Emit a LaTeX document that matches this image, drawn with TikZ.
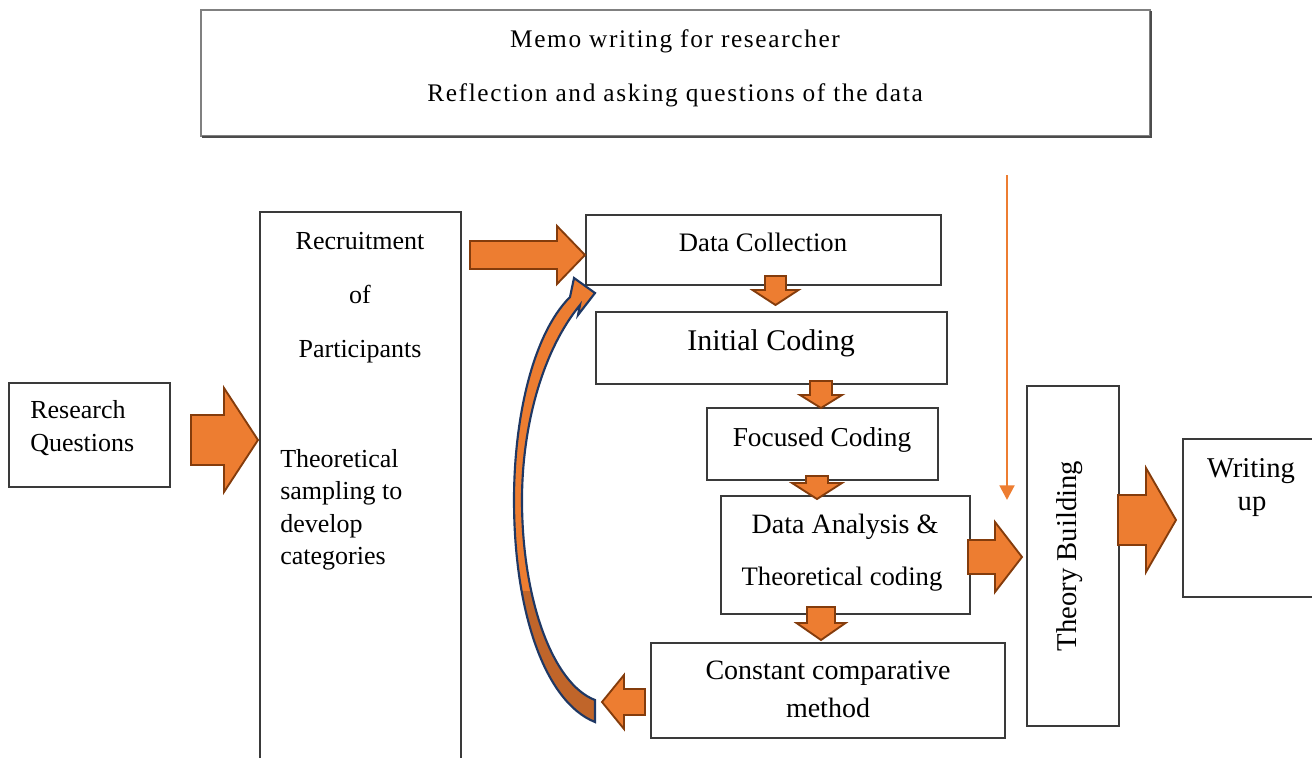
\documentclass[tikz,border=0pt]{standalone}
\usepackage{fontspec}
\setmainfont{Liberation Serif}
\newfontfamily\memofont[LetterSpace=6.5]{Liberation Serif}
\usetikzlibrary{arrows.meta,calc}
\definecolor{orA}{HTML}{ED7D31}
\definecolor{orB}{HTML}{843C0C}
\definecolor{orC}{HTML}{C0652A}
\definecolor{navy}{HTML}{1F3864}
\definecolor{boxline}{HTML}{3A3A3A}
% horizontal block arrow: tail x, tip x, y, body half, head half, head length (signed)
\newcommand\harr[6]{\draw[blk] (#1,#3-#4) -- ({#2-(#6)},#3-#4) -- ({#2-(#6)},#3-#5) -- (#2,#3) -- ({#2-(#6)},#3+#5) -- ({#2-(#6)},#3+#4) -- (#1,#3+#4) -- cycle;}
% vertical block arrow: x, tail y, tip y, body half, head half, head length
\newcommand\varr[6]{\draw[blk] (#1-#4,#2) -- (#1-#4,{#3-(#6)}) -- (#1-#5,{#3-(#6)}) -- (#1,#3) -- (#1+#5,{#3-(#6)}) -- (#1+#4,{#3-(#6)}) -- (#1+#4,#2) -- cycle;}
\begin{document}
\begin{tikzpicture}[x=0.75pt,y=-0.75pt,
  box/.style={draw=boxline, line width=0.9pt, inner sep=0pt, outer sep=0pt, anchor=north west},
  txt/.style={inner sep=0pt, font=\fontsize{19.5}{23}\selectfont, anchor=base},
  blk/.style={fill=orA, draw=orB, line width=1.4pt, line join=miter},
  thinarrow/.style={draw=orA, line width=2.2pt, -{Triangle[width=11pt,length=11pt]}}]
\useasboundingbox (0,0) rectangle (1312,758);

% top memo box
\node[box, draw=gray, line width=0.8pt, minimum width=711.75pt, minimum height=94.5pt] (memo) at (201,10) {};
\draw[black!70, line width=1.6pt] ($(memo.south west)+(1,1)$) -- ($(memo.south east)+(1,1)$) -- ($(memo.north east)+(1,1)$);
\node[txt, font=\memofont\fontsize{19}{23}\selectfont] (memo1) at (675,47) {Memo writing for researcher};
\node[txt, font=\memofont\fontsize{19}{23}\selectfont] (memo2) at (675,101) {Reflection and asking questions of the data};

% research questions
\node[box, minimum width=120.75pt, minimum height=78pt] (rq) at (9,383) {};
\node[txt, anchor=base west] (rq1) at (30,418) {Research};
\node[txt, anchor=base west] (rq2) at (30,451) {Questions};

% recruitment (open at the bottom)
\node[inner sep=0pt, outer sep=0pt, anchor=north west, minimum width=150.75pt, minimum height=409.5pt] (rec) at (260,212) {};
\draw[boxline, line width=0.9pt] (rec.south west) -- (rec.north west) -- (rec.north east) -- (rec.south east);
\node[txt] (rec1) at (360,249) {Recruitment};
\node[txt] (rec2) at (360,303) {of};
\node[txt] (rec3) at (360,357) {Participants};
\node[txt, anchor=base west] (ts1) at (280,467) {Theoretical};
\node[txt, anchor=base west] (ts2) at (280,499) {sampling to};
\node[txt, anchor=base west] (ts3) at (280,532) {develop};
\node[txt, anchor=base west] (ts4) at (280,564) {categories};

% process boxes
\node[box, minimum width=266.25pt, minimum height=52.5pt] (dc) at (586,215) {};
\node[txt, font=\fontsize{20}{24}\selectfont] (dct) at (763,251) {Data Collection};
\node[box, minimum width=263.25pt, minimum height=54pt] (ic) at (596,312) {};
\node[txt, font=\fontsize{22.5}{27}\selectfont] (ict) at (771,350) {Initial Coding};
\node[box, minimum width=173.25pt, minimum height=54pt] (fc) at (707,408) {};
\node[txt, font=\fontsize{20.5}{25}\selectfont] (fct) at (822,446) {Focused Coding};
\node[box, minimum width=186.75pt, minimum height=88.5pt] (da) at (721,496) {};
\node[txt, font=\fontsize{21}{25}\selectfont] (da1) at (845,533) {Data Analysis \&};
\node[txt, font=\fontsize{20}{24}\selectfont] (da2) at (842,585) {Theoretical coding};
\node[box, minimum width=265.5pt, minimum height=71.25pt] (ccm) at (651,643) {};
\node[txt, font=\fontsize{21}{25}\selectfont] (ccm1) at (828,679) {Constant comparative};
\node[txt, font=\fontsize{21}{25}\selectfont] (ccm2) at (828,717) {method};
\node[box, minimum width=69pt, minimum height=255pt] (tb) at (1027,386) {};
\node[inner sep=0pt, rotate=90, font=\fontsize{21.5}{26}\selectfont] (tbt) at (1070,556) {Theory Building};
\node[box, minimum width=101.25pt, minimum height=118.5pt] (wu) at (1183,439) {};
\node[txt, font=\fontsize{21.5}{26}\selectfont] (wu1) at (1251,477) {Writing};
\node[txt, font=\fontsize{21.5}{26}\selectfont] (wu2) at (1252,510) {up};

% block arrows
\harr{191}{258}{440}{25}{52}{34}
\harr{470}{585}{255}{14}{29}{28}
\varr{775.5}{276}{305}{10.5}{23}{15}
\varr{821}{381}{408}{11}{21}{13}
\varr{817}{476}{499}{11}{25}{16}
\varr{821}{607}{640}{14}{24.5}{17}
\harr{645}{602}{702}{13}{27}{-22}
\harr{968}{1022}{557}{17}{35}{27}
\harr{1118}{1176}{520}{25}{52}{30}

% thin orange arrow from memo towards theory building
\coordinate (mline) at (1007,175);
\coordinate (mend) at (1007,500);
\draw[thinarrow] (mline) -- (mend);

% curved feedback arrow
\def\curvepath{(570,297) .. controls (532,335) and (514,420) .. (514,500) .. controls (514,612) and (545,702) .. (595,722) -- (595,700) .. controls (553,684) and (522,600) .. (522,500) .. controls (522,425) and (543,350) .. (580,305) -- (578,315) -- (595,293) -- (574,278) -- cycle}
\fill[orC] \curvepath;
\begin{scope}
\clip (400,200) rectangle (700,590);
\fill[orA] \curvepath;
\end{scope}
\draw[navy, line width=1.6pt, line join=miter] \curvepath;
\end{tikzpicture}
\end{document}
